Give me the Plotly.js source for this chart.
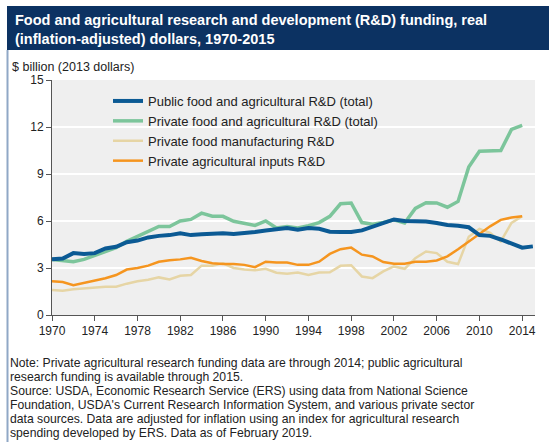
<!DOCTYPE html>
<html>
<head>
<meta charset="utf-8">
<script src="https://cdn.plot.ly/plotly-3.0.1.min.js"></script>
<style>html,body{margin:0;padding:0;background:#fff;}#chart{width:549px;height:442px;}</style>
</head>
<body>
<div id="chart"></div>
<script>
var yearsPublic = [1970,1971,1972,1973,1974,1975,1976,1977,1978,1979,1980,1981,1982,1983,1984,1985,1986,1987,1988,1989,1990,1991,1992,1993,1994,1995,1996,1997,1998,1999,2000,2001,2002,2003,2004,2005,2006,2007,2008,2009,2010,2011,2012,2013,2014,2015];
var yearsPrivate = [1970,1971,1972,1973,1974,1975,1976,1977,1978,1979,1980,1981,1982,1983,1984,1985,1986,1987,1988,1989,1990,1991,1992,1993,1994,1995,1996,1997,1998,1999,2000,2001,2002,2003,2004,2005,2006,2007,2008,2009,2010,2011,2012,2013,2014];

var publicTotal = [3.55,3.6,3.95,3.9,3.95,4.25,4.35,4.65,4.75,4.95,5.05,5.1,5.22,5.1,5.15,5.17,5.22,5.17,5.22,5.3,5.4,5.5,5.55,5.45,5.55,5.5,5.32,5.3,5.3,5.4,5.65,5.9,6.1,6.0,5.98,5.97,5.87,5.74,5.7,5.6,5.1,5.05,4.82,4.55,4.3,4.38];
var privateTotal = [3.55,3.5,3.4,3.55,3.8,4.0,4.3,4.7,5.0,5.3,5.65,5.65,6.0,6.1,6.5,6.3,6.3,5.98,5.85,5.72,6.0,5.56,5.65,5.56,5.7,5.9,6.3,7.1,7.15,5.9,5.8,5.9,6.07,5.87,6.8,7.17,7.15,6.88,7.25,9.45,10.45,10.5,10.5,11.85,12.1];
var privateFood = [1.6,1.55,1.65,1.7,1.72,1.8,1.8,2.0,2.15,2.25,2.4,2.27,2.5,2.55,3.15,3.15,3.3,3.0,2.9,2.85,2.95,2.7,2.63,2.71,2.56,2.71,2.73,3.14,3.18,2.46,2.35,2.78,3.1,2.95,3.63,4.05,3.95,3.4,3.25,5.0,5.5,5.24,4.7,5.88,6.3];
var privateInputs = [2.15,2.1,1.9,2.05,2.2,2.35,2.55,2.9,3.0,3.15,3.4,3.5,3.55,3.65,3.45,3.3,3.25,3.25,3.2,3.05,3.4,3.35,3.35,3.2,3.2,3.4,3.9,4.2,4.3,3.85,3.74,3.38,3.27,3.27,3.4,3.4,3.48,3.74,4.2,4.7,5.2,5.66,6.07,6.22,6.3];

var seriesNames = ["Public food and agricultural R&D (total)","Private food and agricultural R&D (total)","Private food manufacturing R&D","Private agricultural inputs R&D"];
var xTicks = [1970,1974,1978,1982,1986,1990,1994,1998,2002,2006,2010,2014];
var yTicks = [0,3,6,9,12,15];

var titleText = "Food and agricultural research and development (R&amp;D) funding, real<br>(inflation-adjusted) dollars, 1970-2015";
var yLabel = "$ billion (2013 dollars)";
var noteLines = [
  "Note: Private agricultural research funding data are through 2014; public agricultural",
  "research funding is available through 2015.",
  "Source: USDA, Economic Research Service (ERS) using data from National Science",
  "Foundation, USDA's Current Research Information System, and various private sector",
  "data sources. Data are adjusted for inflation using an index for agricultural research",
  "spending developed by ERS. Data as of February 2019."
];

var W = 549, H = 442, L = 52, R = 14, T = 80, B = 127;
var pw = W - L - R, ph = H - T - B;
function px(x){ return (x - L) / pw; }
function py(y){ return (H - B - y) / ph; }

var FONT = "Liberation Sans, Arial, sans-serif";

var traces = [
  {x: yearsPublic, y: publicTotal, name: seriesNames[0], mode: "lines", line: {color: "#0b5a94", width: 4}},
  {x: yearsPrivate, y: privateTotal, name: seriesNames[1], mode: "lines", line: {color: "#7cc59b", width: 3.5}},
  {x: yearsPrivate, y: privateFood, name: seriesNames[2], mode: "lines", line: {color: "#e6d5a5", width: 2.5}},
  {x: yearsPrivate, y: privateInputs, name: seriesNames[3], mode: "lines", line: {color: "#f5951f", width: 2.5}}
];
var ordered = [traces[2], traces[3], traces[1], traces[0]];
ordered.forEach(function(t){ t.legendrank = seriesNames.indexOf(t.name) + 1; });

var annotations = [
  {xref: "paper", yref: "paper", x: px(13), y: py(10), xanchor: "left", yanchor: "top", align: "left", showarrow: false, text: "<b>" + titleText + "</b>", font: {family: FONT, size: 14.5, color: "#ffffff"}},
  {xref: "paper", yref: "paper", x: px(10), y: py(67), xanchor: "left", yanchor: "middle", align: "left", showarrow: false, text: yLabel, font: {family: FONT, size: 12.5, color: "#222"}}
];
noteLines.forEach(function(s, i){
  annotations.push({xref: "paper", yref: "paper", x: px(9), y: py(363 + i * 14), xanchor: "left", yanchor: "middle", align: "left", showarrow: false, borderpad: 0, text: s, font: {family: FONT, size: 12.2, color: "#222"}});
});

var layout = {
  width: W, height: H,
  margin: {l: L, r: R, t: T, b: B, pad: 0},
  paper_bgcolor: "#ffffff",
  plot_bgcolor: "#efefef",
  font: {family: FONT, size: 12, color: "#222"},
  showlegend: true,
  legend: {x: px(108), y: py(86), xanchor: "left", yanchor: "top", bgcolor: "rgba(0,0,0,0)", font: {size: 13, color: "#222"}, traceorder: "normal", itemwidth: 30, tracegroupgap: 0},
  xaxis: {range: [1970, 2015.2], tickmode: "array", tickvals: xTicks, ticktext: xTicks.map(String), showgrid: false, zeroline: false, showline: true, linecolor: "#555", linewidth: 1, ticks: "outside", ticklen: 5, tickcolor: "#555", tickfont: {size: 12, color: "#222"}},
  yaxis: {range: [0, 15], tickmode: "array", tickvals: yTicks, showgrid: true, gridcolor: "#ffffff", gridwidth: 1.5, zeroline: false, showline: true, linecolor: "#555", linewidth: 1, ticks: "outside", ticklen: 5, tickcolor: "#555", tickfont: {size: 12, color: "#222"}},
  shapes: [
    {type: "rect", xref: "paper", yref: "paper", x0: px(7), x1: px(549), y0: py(50), y1: py(6), fillcolor: "#0c3262", line: {width: 0}, layer: "below"},
    {type: "line", xref: "paper", yref: "paper", x0: px(7.5), x1: px(7.5), y0: py(50), y1: py(442), line: {color: "#90a8c6", width: 2}}
  ],
  annotations: annotations
};

Plotly.newPlot("chart", ordered, layout, {displayModeBar: false, staticPlot: true});
</script>
</body>
</html>
